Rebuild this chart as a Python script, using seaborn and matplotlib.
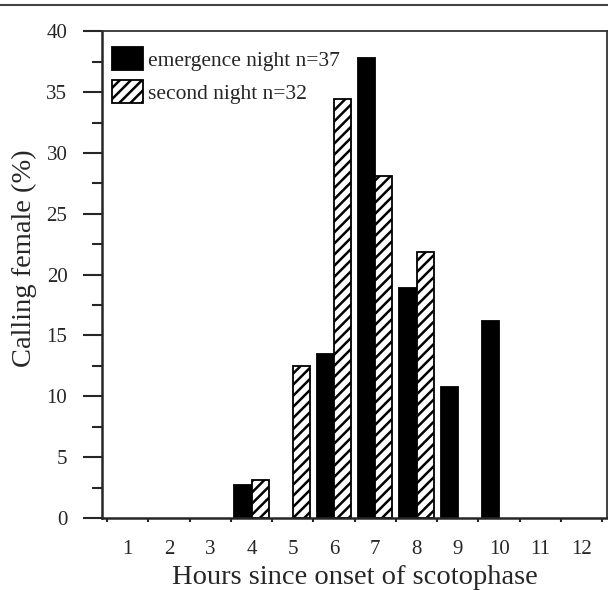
import pandas as pd
import matplotlib
matplotlib.use("Agg")
import matplotlib.pyplot as plt
import seaborn as sns
from matplotlib.ticker import MultipleLocator, FixedLocator

# values (percent of calling females per hour)
hours = [1, 2, 3, 4, 5, 6, 7, 8, 9, 10, 11, 12]
emergence = [0, 0, 0, 2.7, 0, 13.5, 37.8, 18.9, 10.8, 16.2, 0, 0]
second = [0, 0, 0, 3.1, 12.5, 34.4, 28.1, 21.9, 0, 0, 0, 0]
labels = ["emergence night n=37", "second night n=32"]

df = pd.DataFrame({
    "hour": hours * 2,
    "pct": emergence + second,
    "night": [labels[0]] * 12 + [labels[1]] * 12,
})

sns.set_style("ticks")
plt.rcParams["font.family"] = ["Liberation Serif", "DejaVu Serif"]
plt.rcParams["hatch.linewidth"] = 1.8
plt.rcParams["hatch.color"] = "black"

fig = plt.figure(figsize=(6.08, 5.90), dpi=100)
ax = fig.add_axes([0.168, 0.122, 0.83, 0.825])

sns.barplot(
    data=df, x="hour", y="pct", hue="night",
    palette=["black", "white"], width=0.83,
    edgecolor="black", linewidth=1.3, saturation=1,
    legend=False, ax=ax,
)

for bar in ax.containers[1]:
    bar.set_hatch("///")

# legend first, so its boxes copy a visible bar
ax.legend(
    ax.containers, labels, loc="upper left", frameon=False,
    fontsize=15.5, handlelength=1.44, handleheight=1.28,
    handletextpad=0.2, labelspacing=0.42,
    borderpad=0, borderaxespad=0, bbox_to_anchor=(0.02, 0.968),
)

# empty hours have no bar at all
for cont in ax.containers:
    for bar in cont:
        if bar.get_height() == 0:
            bar.set_visible(False)

ax.set_ylim(0, 40)
ax.set_xlim(-0.62, 11.61)

# y ticks: major every 5, minor every 2.5, pointing outward
ax.yaxis.set_major_locator(MultipleLocator(5))
ax.yaxis.set_minor_locator(MultipleLocator(2.5))
ax.tick_params(axis="y", which="major", length=14, width=1.5, direction="out", labelsize=15, pad=11)
ax.tick_params(axis="y", which="minor", length=7, width=1.5, direction="out")

# x ticks: small marks on bin boundaries, labels at bin centres
ax.set_xticks(range(12))
ax.set_xticklabels([str(h) for h in hours])
ax.xaxis.set_minor_locator(FixedLocator([i - 0.5 for i in range(13)]))
ax.tick_params(axis="x", which="major", length=0, labelsize=15, pad=16)
ax.tick_params(axis="x", which="minor", length=3, width=1.5, direction="out")

for side in ["left", "bottom"]:
    ax.spines[side].set_linewidth(1.8)
for side in ["top", "right"]:
    ax.spines[side].set_visible(True)
    ax.spines[side].set_linewidth(1.3)
    ax.spines[side].set_color("#333333")

ax.set_xlabel("Hours since onset of scotophase", fontsize=20.5, labelpad=4)
ax.set_ylabel("Calling female (%)", fontsize=20.5)
ax.yaxis.set_label_coords(-0.129, 0.534)

# thin rule across the top of the figure
fig.add_artist(plt.Line2D([0, 1], [0.991, 0.991], color="#444444", linewidth=1.5))

fig.savefig("out.png", dpi=100)
